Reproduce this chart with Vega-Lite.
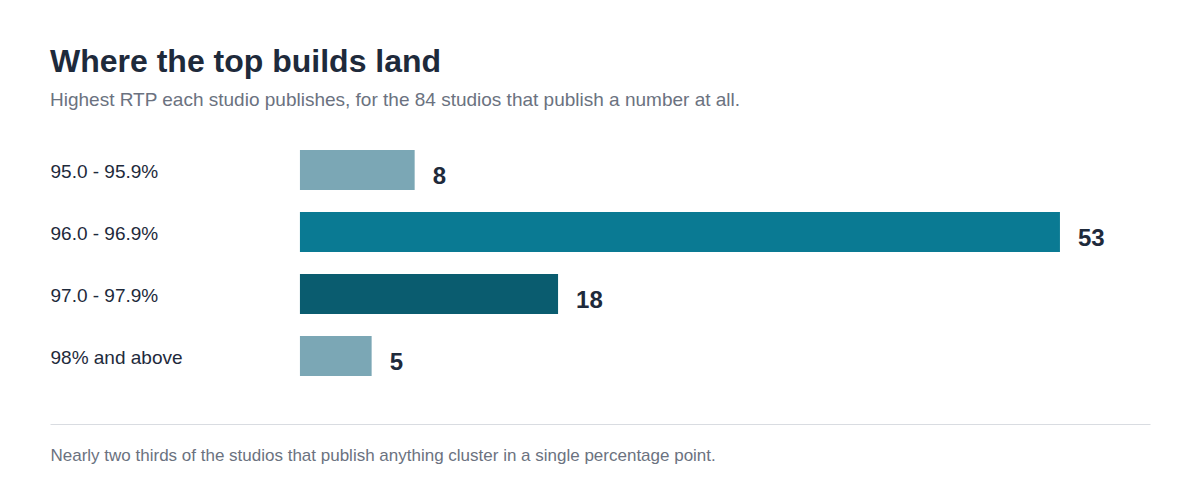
{
  "$schema": "https://vega.github.io/schema/vega-lite/v6.json",
  "background": "white",
  "padding": {"left": 50, "top": 46, "right": 50, "bottom": 10},
  "width": 1100,
  "height": 294,
  "title": {
    "text": "Where the top builds land",
    "subtitle": "Highest RTP each studio publishes, for the 84 studios that publish a number at all.",
    "anchor": "start",
    "fontSize": 32,
    "fontWeight": "bold",
    "color": "#1e2a3b",
    "subtitleFontSize": 19,
    "subtitleColor": "#6b7280",
    "subtitlePadding": 12,
    "offset": 19
  },
  "data": {
    "values": [
      {"band": "95.0 - 95.9%", "studios": 8},
      {"band": "96.0 - 96.9%", "studios": 53},
      {"band": "97.0 - 97.9%", "studios": 18},
      {"band": "98% and above", "studios": 5}
    ]
  },
  "encoding": {
    "y": {
      "field": "band",
      "type": "nominal",
      "sort": null,
      "scale": {"paddingInner": 0.355, "paddingOuter": 0.548, "align": 0.294},
      "axis": {
        "title": null,
        "ticks": false,
        "tickSize": 0,
        "domain": false,
        "labelAlign": "left",
        "labelPadding": 0,
        "labelFontSize": 19,
        "labelColor": "#1e2a3b",
        "labelBaseline": "middle",
        "labelOffset": 2
      }
    },
    "x": {
      "field": "studios",
      "type": "quantitative",
      "scale": {"domain": [-17.43, 59.28], "nice": false},
      "axis": {
        "title": "Nearly two thirds of the studios that publish anything cluster in a single percentage point.",
        "titleAnchor": "start",
        "titleAlign": "left",
        "titleFontSize": 17,
        "titleFontWeight": "normal",
        "titleColor": "#6b7280",
        "titlePadding": 23,
        "labels": false,
        "ticks": false,
        "grid": false,
        "domain": true,
        "domainColor": "#d9dce1",
        "domainWidth": 1
      }
    }
  },
  "layer": [
    {
      "mark": {"type": "bar"},
      "encoding": {
        "color": {
          "field": "band",
          "type": "nominal",
          "scale": {
            "domain": ["95.0 - 95.9%", "96.0 - 96.9%", "97.0 - 97.9%", "98% and above"],
            "range": ["#7ba7b5", "#0a7a93", "#0a5c6f", "#7ba7b5"]
          },
          "legend": null
        }
      }
    },
    {
      "mark": {
        "type": "text",
        "align": "left",
        "baseline": "middle",
        "dx": 18,
        "dy": 7,
        "fontSize": 24,
        "fontWeight": "bold",
        "color": "#1e2a3b"
      },
      "encoding": {
        "text": {"field": "studios", "type": "quantitative"}
      }
    }
  ],
  "config": {
    "font": "Liberation Sans",
    "view": {"stroke": null}
  }
}
